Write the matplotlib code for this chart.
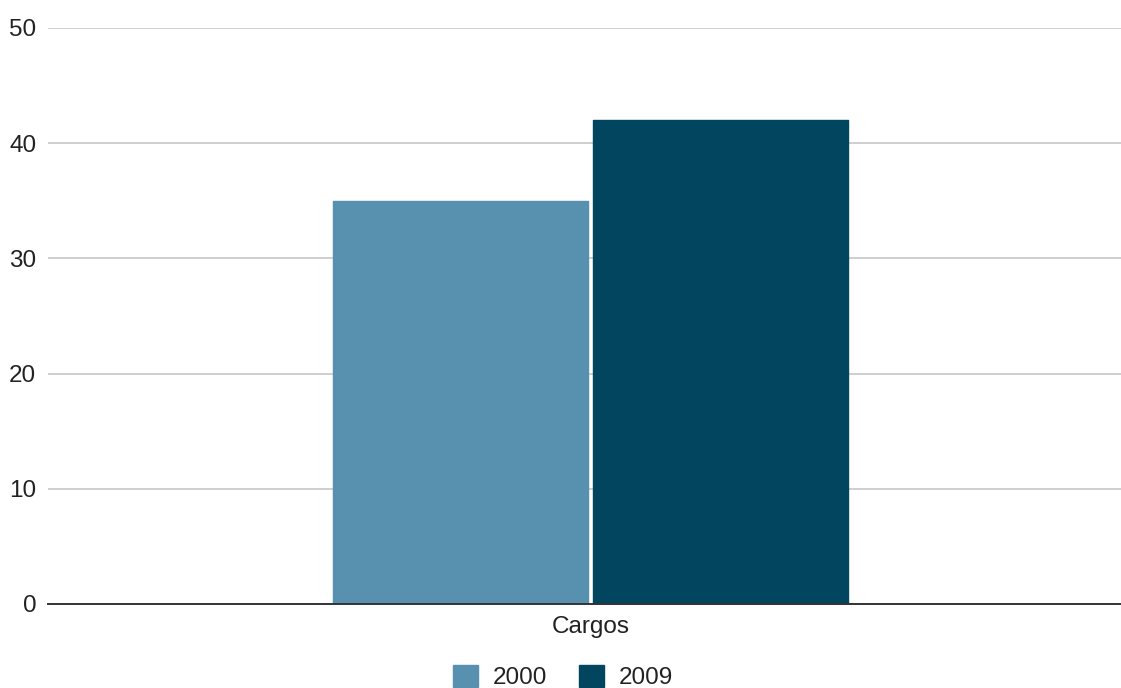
import matplotlib
matplotlib.use("Agg")
import matplotlib.pyplot as plt

categories = ["Cargos"]
series_names = ["2000", "2009"]
values_2000 = [35]
values_2009 = [42]
y_ticks = [0, 10, 20, 30, 40, 50]

colors = ["#5891AF", "#02455F"]

plt.rcParams["font.family"] = ["Liberation Sans", "DejaVu Sans"]

W, H = 1121, 688
fig = plt.figure(figsize=(W / 100, H / 100), dpi=100)
ax = fig.add_axes([48 / W, 1 - 604 / H, 1085 / W, 576 / H])

bar_w = 0.235
offsets = [-0.12, 0.12]
for name, vals, off, col in zip(series_names, [values_2000, values_2009], offsets, colors):
    xs = [i + off for i in range(len(categories))]
    ax.bar(xs, vals, width=bar_w, color=col, label=name, zorder=2,
           edgecolor=col, linewidth=1.0, joinstyle="round")

ax.set_xlim(-0.5, len(categories) - 0.5)
ax.set_ylim(0, 50)
ax.set_yticks(y_ticks)
ax.set_yticklabels([str(t) for t in y_ticks])
ax.set_xticks(range(len(categories)))
ax.set_xticklabels(categories)

ax.grid(axis="y", color="#cccccc", linewidth=1.3, zorder=0)
ax.set_axisbelow(True)
for s in ["top", "right", "left"]:
    ax.spines[s].set_visible(False)
ax.spines["bottom"].set_color("#333333")
ax.spines["bottom"].set_linewidth(1.4)
ax.spines["bottom"].set_zorder(3)

ax.tick_params(axis="both", length=0, labelsize=17.5, labelcolor="#222222")
ax.tick_params(axis="y", pad=8.5)
ax.tick_params(axis="x", pad=8.5)

leg = fig.legend(loc="center", bbox_to_anchor=(563 / W, 1 - 677 / H),
                 ncol=2, frameon=False, fontsize=17.5,
                 handlelength=1.0, handleheight=1.0, handletextpad=0.6,
                 columnspacing=1.35, borderpad=0)
for t in leg.get_texts():
    t.set_color("#222222")

fig.savefig("out.png", dpi=100)
